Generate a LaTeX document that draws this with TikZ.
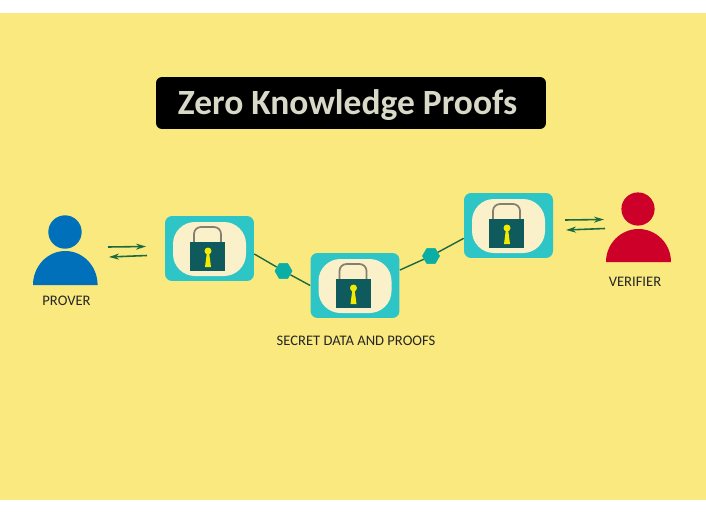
\documentclass[tikz,border=0pt]{standalone}
\usepackage{fontspec}
\usepackage{xcolor}
\usetikzlibrary{arrows.meta,shapes.geometric}
\setmainfont{Carlito}
\definecolor{zk_page}{HTML}{F9E97F}
\definecolor{zk_card}{HTML}{2EC5C6}
\definecolor{zk_cream}{HTML}{FAF0C9}
\definecolor{zk_lock}{HTML}{0E5A5C}
\definecolor{zk_shackle}{HTML}{857F70}
\definecolor{zk_key}{HTML}{F4E900}
\definecolor{zk_hex}{HTML}{0BAEA4}
\definecolor{zk_line}{HTML}{1C6A40}
\definecolor{zk_prover}{HTML}{0070BA}
\definecolor{zk_verifier}{HTML}{CC0029}
\definecolor{zk_title}{HTML}{D9D9C8}
\tikzset{
    lockcard/.style={fill=zk_card,rounded corners=0.14cm,minimum width=1.78cm,minimum height=1.3cm,inner sep=0pt},
    hexnode/.style={regular polygon,regular polygon sides=6,fill=zk_hex,minimum size=0.35cm,inner sep=0pt},
    link/.style={zk_line,line width=0.8pt},
    swap_arrow/.style={-{Stealth[length=2mm,width=1.2mm]},zk_line,line width=0.9pt},
    caption/.style={font=\fontsize{8.3}{10}\selectfont,text=black!85,inner sep=0pt},
}
\newcommand{\lockicon}[2]{%
  \begin{scope}[shift={(#1,#2)}]
    \fill[zk_cream,rounded corners=0.44cm] (-36.5,-26.5) rectangle (36.5,27.5);
    \draw[zk_shackle,line width=1pt,rounded corners=0.14cm] (-15.5,-6.5) -- (-15.5,-21.5) -- (11.5,-21.5) -- (11.5,-6.5);
    \fill[zk_lock] (-19.5,-6.5) rectangle (15.5,22.5);
    \fill[zk_key] (-1.5,2.5) circle (3.5);
    \fill[zk_key] (-2.5,3) -- (-0.5,3) -- (1.5,18.5) -- (-4.5,18.5) -- cycle;
  \end{scope}}
\begin{document}
\begin{tikzpicture}[x=0.02cm,y=-0.02cm]
  \useasboundingbox (0,0) rectangle (706,527);
  \fill[white] (0,0) rectangle (706,527);
  \fill[zk_page] (0,13) rectangle (706,500);
  % title
  \node[fill=black,rounded corners=0.12cm,minimum width=7.8cm,minimum height=1.04cm,inner sep=0pt] (titlebar) at (351,103) {};
  \node[text=zk_title,font=\fontsize{20.2}{24}\selectfont\bfseries,inner sep=0pt] (title) at (347.5,105) {Zero Knowledge Proofs};
  % people
  \fill[zk_prover] (65,232) circle (16.7);
  \fill[zk_prover] (33,285) arc (180:360:32.3 and 34) -- cycle;
  \fill[zk_verifier] (638,209) circle (16.6);
  \fill[zk_verifier] (606,262) arc (180:360:32.5 and 33) -- cycle;
  \node[caption] (prover) at (66.5,300.5) {PROVER};
  \node[caption] (verifier) at (635,281.5) {VERIFIER};
  % arrows
  \coordinate (pa1) at (108,247);
  \coordinate (pa2) at (146,246.5);
  \coordinate (pb1) at (147,255.5);
  \coordinate (pb2) at (109,257);
  \coordinate (va1) at (565,220);
  \coordinate (va2) at (604,219.5);
  \coordinate (vb1) at (605,228.5);
  \coordinate (vb2) at (566,230);
  \draw[swap_arrow] (pa1) -- (pa2);
  \draw[swap_arrow] (pb1) -- (pb2);
  \draw[swap_arrow] (va1) -- (va2);
  \draw[swap_arrow] (vb1) -- (vb2);
  % locks
  \node[lockcard] (lockA) at (209.5,248.5) {};
  \node[lockcard] (lockB) at (355,285.5) {};
  \node[lockcard] (lockC) at (508.5,225.5) {};
  \node[hexnode] (hexA) at (283.5,271) {};
  \node[hexnode] (hexB) at (431,256) {};
  \draw[link] (lockA.-7) -- (hexA);
  \draw[link] (hexA) -- (lockB.west);
  \draw[link] (lockB.19) -- (hexB);
  \draw[link] (hexB) -- (lockC.196);
  \node[hexnode] at (hexA) {};
  \node[hexnode] at (hexB) {};
  \lockicon{209.5}{248.5}
  \lockicon{355}{285.5}
  \lockicon{508.5}{225.5}
  \node[caption] (secret) at (356,340.5) {SECRET DATA AND PROOFS};
\end{tikzpicture}
\end{document}
